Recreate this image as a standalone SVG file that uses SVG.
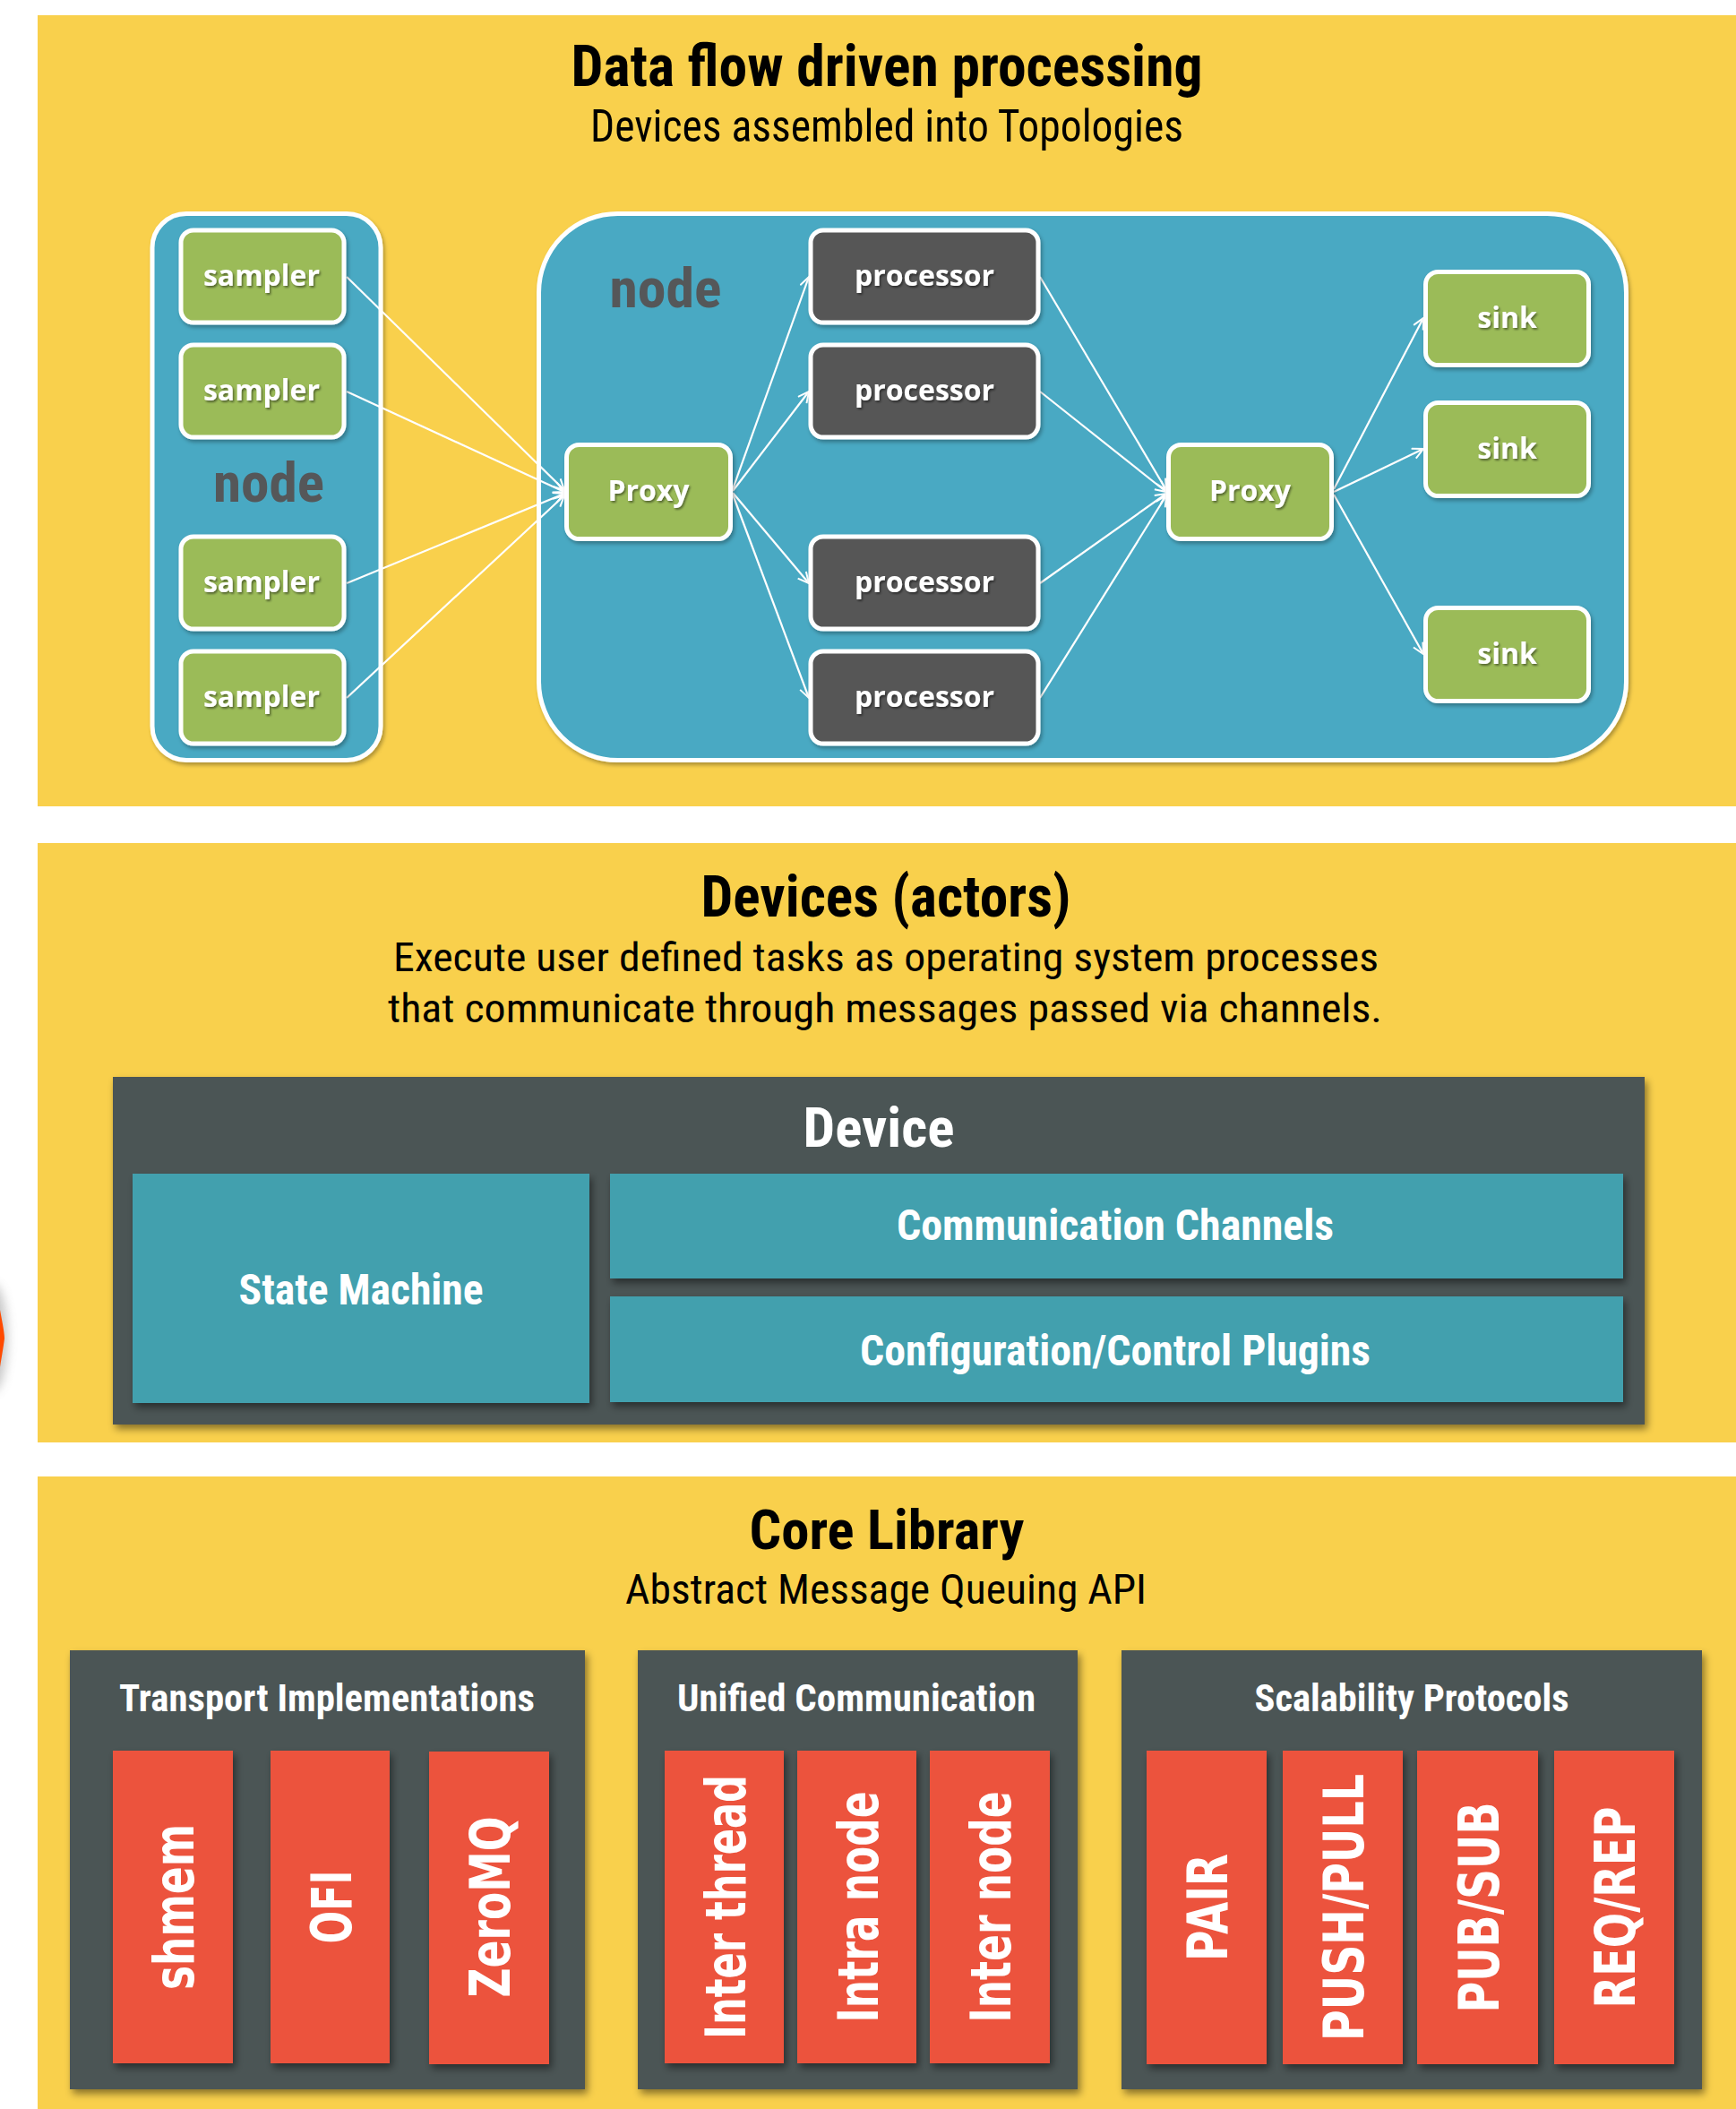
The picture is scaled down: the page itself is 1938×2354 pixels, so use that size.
<svg xmlns="http://www.w3.org/2000/svg" width="1938" height="2354" viewBox="0 0 1938 2354">
<defs>
<style>
.panel{fill:#f9d04c}
.cont{fill:#4aa9c3;stroke:#ffffff;stroke-width:5}
.green{fill:#9bbb59;stroke:#ffffff;stroke-width:5}
.proc{fill:#565656;stroke:#ffffff;stroke-width:5}
.btxt{font-family:"Open Sans","Noto Sans",sans-serif;font-weight:700;font-size:32px;fill:#ffffff;text-anchor:middle}
.nodel{font-family:"Roboto Condensed",Roboto,"Liberation Sans",sans-serif;font-weight:700;font-size:62px;fill:#555759;text-anchor:middle}
.title{font-family:"Roboto Condensed",Roboto,"Liberation Sans",sans-serif;font-weight:700;fill:#000000;text-anchor:middle}
.sub{font-family:"Roboto Condensed",Roboto,"Liberation Sans",sans-serif;font-weight:400;fill:#000000;text-anchor:middle}
.wt{font-family:"Roboto Condensed",Roboto,"Liberation Sans",sans-serif;font-weight:700;fill:#ffffff;text-anchor:middle}
.dark{fill:#4b5555}
.teal{fill:#43a0ae}
.red{fill:#ec523c}
.bar{font-family:"DejaVu Sans","Liberation Sans",sans-serif;font-weight:700;font-size:63px;fill:#ffffff;text-anchor:middle}
.conn{stroke:#ffffff;stroke-width:2.2;fill:none;marker-end:url(#arr)}
</style>
<marker id="arr" markerUnits="userSpaceOnUse" markerWidth="16" markerHeight="16" refX="13" refY="7" orient="auto">
<path d="M1,1 L13,7 L1,13" fill="none" stroke="#ffffff" stroke-width="2"/>
</marker>
<filter id="sh" x="-10%" y="-10%" width="130%" height="140%">
<feDropShadow dx="2" dy="3" stdDeviation="2" flood-color="#000000" flood-opacity="0.3"/>
</filter>
<filter id="sh2" x="-10%" y="-10%" width="130%" height="130%">
<feDropShadow dx="3" dy="5" stdDeviation="4" flood-color="#000000" flood-opacity="0.45"/>
</filter>
<filter id="tsh" x="-10%" y="-20%" width="130%" height="150%">
<feDropShadow dx="1.5" dy="2" stdDeviation="0.8" flood-color="#000000" flood-opacity="0.45"/>
</filter>
<filter id="blur" x="-100%" y="-50%" width="300%" height="200%">
<feGaussianBlur stdDeviation="6"/>
</filter>
</defs>

<rect x="0" y="0" width="1938" height="2354" fill="#ffffff"/>

<!-- left edge fragment -->
<g id="edge-fragment">
<ellipse cx="-8" cy="1493" rx="16" ry="60" fill="#808080" opacity="0.45" filter="url(#blur)"/>
<path d="M0,1462 C3,1478 5,1488 5,1494 C4,1502 2,1514 0,1526 Z" fill="#ff4a00"/>
</g>

<!-- panels -->
<g id="panels">
<rect class="panel" x="42" y="17" width="1896" height="883"/>
<rect class="panel" x="42" y="941" width="1896" height="669"/>
<rect class="panel" x="42" y="1648" width="1896" height="706"/>
</g>

<!-- Section 1 titles -->
<g id="section1-title">
<text class="title" x="990" y="96" font-size="64" textLength="705" lengthAdjust="spacingAndGlyphs">Data flow driven processing</text>
<text class="sub" x="990" y="158" font-size="50" textLength="662" lengthAdjust="spacingAndGlyphs">Devices assembled into Topologies</text>
</g>

<!-- containers -->
<g id="node-left" filter="url(#sh)">
<rect class="cont" x="170" y="238.5" width="255" height="610" rx="38"/>
</g>
<g id="node-right" filter="url(#sh)">
<rect class="cont" x="601.5" y="238.5" width="1214" height="610" rx="88"/>
</g>
<text class="nodel" x="300" y="560" textLength="124" lengthAdjust="spacingAndGlyphs">node</text>
<text class="nodel" x="743" y="343" textLength="125" lengthAdjust="spacingAndGlyphs">node</text>

<!-- connectors -->
<g id="connectors">
<line class="conn" x1="387" y1="309" x2="630" y2="547"/>
<line class="conn" x1="387" y1="437" x2="630" y2="549"/>
<line class="conn" x1="387" y1="651" x2="630" y2="551"/>
<line class="conn" x1="387" y1="779" x2="630" y2="553"/>
<line class="conn" x1="818" y1="546" x2="903" y2="309"/>
<line class="conn" x1="818" y1="548" x2="903" y2="437"/>
<line class="conn" x1="818" y1="550" x2="903" y2="651"/>
<line class="conn" x1="818" y1="552" x2="903" y2="779"/>
<line class="conn" x1="1161" y1="309" x2="1302" y2="547"/>
<line class="conn" x1="1161" y1="437" x2="1302" y2="549"/>
<line class="conn" x1="1161" y1="651" x2="1302" y2="551"/>
<line class="conn" x1="1161" y1="779" x2="1302" y2="553"/>
<line class="conn" x1="1489" y1="546" x2="1589" y2="355"/>
<line class="conn" x1="1489" y1="549" x2="1589" y2="501"/>
<line class="conn" x1="1489" y1="552" x2="1589" y2="730"/>
</g>

<!-- samplers -->
<g id="sampler1" filter="url(#sh)"><rect class="green" x="202" y="257" width="182" height="103" rx="14"/></g>
<g id="sampler2" filter="url(#sh)"><rect class="green" x="202" y="385" width="182" height="103" rx="14"/></g>
<g id="sampler3" filter="url(#sh)"><rect class="green" x="202" y="599" width="182" height="103" rx="14"/></g>
<g id="sampler4" filter="url(#sh)"><rect class="green" x="202" y="727" width="182" height="103" rx="14"/></g>
<g filter="url(#tsh)">
<text class="btxt" x="292" y="319">sampler</text>
<text class="btxt" x="292" y="447">sampler</text>
<text class="btxt" x="292" y="661">sampler</text>
<text class="btxt" x="292" y="789">sampler</text>
</g>

<!-- proxies -->
<g id="proxy1" filter="url(#sh)"><rect class="green" x="632.5" y="496.5" width="183" height="105" rx="14"/></g>
<g id="proxy2" filter="url(#sh)"><rect class="green" x="1304.5" y="496.5" width="182" height="105" rx="14"/></g>

<!-- processors -->
<g id="processor1" filter="url(#sh)"><rect class="proc" x="905" y="257" width="254" height="103" rx="14"/></g>
<g id="processor2" filter="url(#sh)"><rect class="proc" x="905" y="385" width="254" height="103" rx="14"/></g>
<g id="processor3" filter="url(#sh)"><rect class="proc" x="905" y="599" width="254" height="103" rx="14"/></g>
<g id="processor4" filter="url(#sh)"><rect class="proc" x="905" y="727" width="254" height="103" rx="14"/></g>

<!-- sinks -->
<g id="sink1" filter="url(#sh)"><rect class="green" x="1591.5" y="303.5" width="182" height="104" rx="14"/></g>
<g id="sink2" filter="url(#sh)"><rect class="green" x="1591.5" y="449.5" width="182" height="104" rx="14"/></g>
<g id="sink3" filter="url(#sh)"><rect class="green" x="1591.5" y="678.5" width="182" height="104" rx="14"/></g>

<g filter="url(#tsh)">
<text class="btxt" x="724" y="559">Proxy</text>
<text class="btxt" x="1395.5" y="559">Proxy</text>
<text class="btxt" x="1032" y="319">processor</text>
<text class="btxt" x="1032" y="447">processor</text>
<text class="btxt" x="1032" y="661">processor</text>
<text class="btxt" x="1032" y="789">processor</text>
<text class="btxt" x="1682.5" y="366">sink</text>
<text class="btxt" x="1682.5" y="512">sink</text>
<text class="btxt" x="1682.5" y="741">sink</text>
</g>

<!-- Section 2 -->
<g id="section2-title">
<text class="title" x="989" y="1023" font-size="64" textLength="413" lengthAdjust="spacingAndGlyphs">Devices (actors)</text>
<text class="sub" x="989" y="1084" font-size="45" textLength="1100" lengthAdjust="spacingAndGlyphs">Execute user defined tasks as operating system processes</text>
<text class="sub" x="988" y="1141" font-size="45" textLength="1110" lengthAdjust="spacingAndGlyphs">that communicate through messages passed via channels.</text>
</g>
<g id="device">
<rect class="dark" x="126" y="1202" width="1710" height="388" filter="url(#sh2)"/>
<text class="wt" x="981" y="1280" font-size="61" textLength="169" lengthAdjust="spacingAndGlyphs">Device</text>
</g>
<g id="state-machine">
<rect class="teal" x="148" y="1310" width="510" height="256" filter="url(#sh2)"/>
<text class="wt" x="403" y="1456" font-size="48" textLength="273" lengthAdjust="spacingAndGlyphs">State Machine</text>
</g>
<g id="comm-channels">
<rect class="teal" x="681" y="1310" width="1131" height="117" filter="url(#sh2)"/>
<text class="wt" x="1245" y="1384" font-size="48" textLength="488" lengthAdjust="spacingAndGlyphs">Communication Channels</text>
</g>
<g id="config-plugins">
<rect class="teal" x="681" y="1447" width="1131" height="118" filter="url(#sh2)"/>
<text class="wt" x="1245" y="1524" font-size="48" textLength="570" lengthAdjust="spacingAndGlyphs">Configuration/Control Plugins</text>
</g>

<!-- Section 3 -->
<g id="section3-title">
<text class="title" x="990" y="1729" font-size="61" textLength="307" lengthAdjust="spacingAndGlyphs">Core Library</text>
<text class="sub" x="989" y="1790" font-size="47" textLength="582" lengthAdjust="spacingAndGlyphs">Abstract Message Queuing API</text>
</g>

<g id="transport">
<rect class="dark" x="78" y="1842" width="575" height="490" filter="url(#sh2)"/>
<text class="wt" x="365" y="1910" font-size="43" textLength="464" lengthAdjust="spacingAndGlyphs">Transport Implementations</text>
</g>
<g id="unified">
<rect class="dark" x="712" y="1842" width="491" height="490" filter="url(#sh2)"/>
<text class="wt" x="956" y="1910" font-size="43" textLength="400" lengthAdjust="spacingAndGlyphs">Unified Communication</text>
</g>
<g id="scalability">
<rect class="dark" x="1252" y="1842" width="648" height="490" filter="url(#sh2)"/>
<text class="wt" x="1576" y="1910" font-size="43" textLength="351" lengthAdjust="spacingAndGlyphs">Scalability Protocols</text>
</g>

<g id="bar-shmem"><rect class="red" x="126" y="1954" width="134" height="349" filter="url(#sh2)"/>
<text class="bar" transform="translate(193,2128.5) rotate(-90)" x="0" y="23" textLength="185" lengthAdjust="spacingAndGlyphs">shmem</text></g>
<g id="bar-ofi"><rect class="red" x="302" y="1954" width="133" height="349" filter="url(#sh2)"/>
<text class="bar" transform="translate(368.5,2128.5) rotate(-90)" x="0" y="23" textLength="82" lengthAdjust="spacingAndGlyphs">OFI</text></g>
<g id="bar-zeromq"><rect class="red" x="479" y="1955" width="134" height="349" filter="url(#sh2)"/>
<text class="bar" transform="translate(545.5,2128.5) rotate(-90)" x="0" y="23" textLength="202" lengthAdjust="spacingAndGlyphs">ZeroMQ</text></g>

<g id="bar-interthread"><rect class="red" x="742" y="1954" width="133" height="349" filter="url(#sh2)"/>
<text class="bar" transform="translate(808.5,2128.5) rotate(-90)" x="0" y="23" textLength="295" lengthAdjust="spacingAndGlyphs">Inter thread</text></g>
<g id="bar-intranode"><rect class="red" x="890" y="1954" width="133" height="349" filter="url(#sh2)"/>
<text class="bar" transform="translate(956.5,2128.5) rotate(-90)" x="0" y="23" textLength="258" lengthAdjust="spacingAndGlyphs">Intra node</text></g>
<g id="bar-internode"><rect class="red" x="1038" y="1954" width="134" height="349" filter="url(#sh2)"/>
<text class="bar" transform="translate(1105,2128.5) rotate(-90)" x="0" y="23" textLength="258" lengthAdjust="spacingAndGlyphs">Inter node</text></g>

<g id="bar-pair"><rect class="red" x="1280" y="1954" width="134" height="350" filter="url(#sh2)"/>
<text class="bar" transform="translate(1347,2129) rotate(-90)" x="0" y="23" textLength="120" lengthAdjust="spacingAndGlyphs">PAIR</text></g>
<g id="bar-pushpull"><rect class="red" x="1432" y="1954" width="134" height="350" filter="url(#sh2)"/>
<text class="bar" transform="translate(1499,2129) rotate(-90)" x="0" y="23" textLength="298" lengthAdjust="spacingAndGlyphs">PUSH/PULL</text></g>
<g id="bar-pubsub"><rect class="red" x="1582" y="1954" width="135" height="350" filter="url(#sh2)"/>
<text class="bar" transform="translate(1649.5,2129) rotate(-90)" x="0" y="23" textLength="235" lengthAdjust="spacingAndGlyphs">PUB/SUB</text></g>
<g id="bar-reqrep"><rect class="red" x="1735" y="1954" width="134" height="350" filter="url(#sh2)"/>
<text class="bar" transform="translate(1802,2129) rotate(-90)" x="0" y="23" textLength="225" lengthAdjust="spacingAndGlyphs">REQ/REP</text></g>
</svg>
